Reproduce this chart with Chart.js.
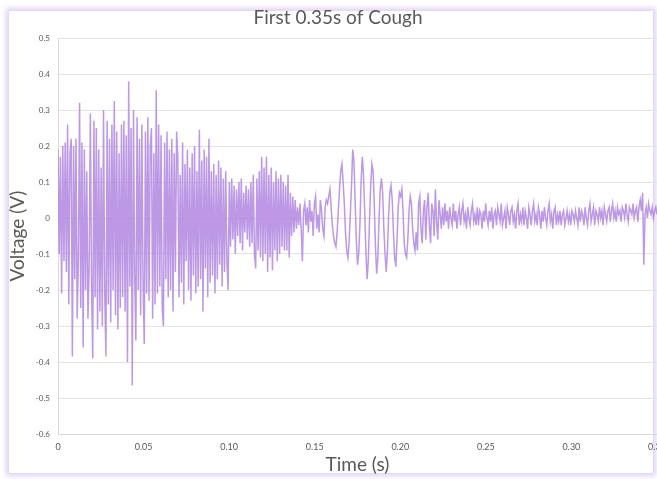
<!DOCTYPE html>
<html>
<head>
<meta charset="utf-8">
<script src="https://cdn.jsdelivr.net/npm/chart.js@4.4.1/dist/chart.umd.min.js"></script>
<style>
  html, body { margin: 0; padding: 0; background: #fff; overflow: hidden; }
  #frame {
    position: absolute; left: 9px; top: 11px; width: 644px; height: 462px;
    box-shadow: 0 0 5px 3px rgba(214, 196, 240, 0.75);
    background: #fff;
  }
  #wrap { position: absolute; left: 0; top: 0; width: 680px; height: 479px; }
</style>
</head>
<body>
<div id="frame"></div>
<div id="wrap"><canvas id="coughChart" width="680" height="479"></canvas></div>
<script>
// sample interval of the recording (s)
const sampleStep = 0.0007;

// 0 - 0.07 s : onset burst
const burst = [
  0.19, -0.10, 0.17, -0.21, 0.20, -0.12, 0.21, -0.15, 0.26, -0.24,
  0.18, 0.22, -0.385, 0.20, -0.17, 0.22, -0.28, -0.12, 0.32, -0.25,
  0.21, -0.36, 0.19, -0.20, 0.13, -0.28, -0.14, 0.29, -0.18, -0.39,
  0.27, -0.22, 0.25, -0.31, 0.19, -0.26, 0.14, -0.30, 0.30, -0.21,
  -0.385, 0.27, -0.24, 0.22, -0.29, 0.26, -0.20, 0.325, -0.27, 0.24,
  -0.31, 0.18, -0.25, 0.26, -0.22, 0.27, -0.26, 0.23, -0.40, 0.38,
  -0.19, 0.25, -0.465, 0.30, -0.16, -0.34, 0.28, -0.20, 0.22, -0.27,
  0.26, -0.18, -0.35, 0.24, -0.21, 0.28, -0.23, 0.20, 0.25, -0.28,
  0.18, -0.24, 0.355, -0.21, 0.26, -0.19, 0.23, -0.25, -0.30, 0.21,
  -0.17, 0.24, -0.22, 0.19, -0.20, 0.22, -0.26, 0.18, -0.15, 0.24
];

// 0.07 - 0.14 s : decay
const decay = [
  0.17, -0.22, 0.12, -0.18, 0.21, -0.24, 0.15, -0.12, 0.19, -0.20,
  0.14, -0.23, 0.18, -0.16, 0.20, -0.21, 0.13, -0.19, 0.245, -0.17,
  0.16, -0.26, 0.19, -0.14, 0.17, -0.22, 0.22, -0.18, 0.13, -0.16,
  0.15, -0.21, 0.12, -0.17, 0.16, -0.13, 0.14, -0.19, 0.11, -0.15,
  0.13, -0.12, -0.20, 0.10, -0.08, 0.11, -0.06, 0.09, -0.10, 0.08,
  -0.05, 0.10, -0.07, 0.11, -0.09, 0.07, -0.04, 0.09, -0.06, 0.08,
  -0.08, 0.10, -0.07, 0.12, -0.10, -0.14, 0.11, -0.09, 0.13, -0.11,
  0.17, -0.12, 0.14, -0.10, 0.17, -0.15, 0.12, -0.11, 0.14, -0.145,
  0.10, -0.09, 0.13, -0.12, 0.11, -0.10, 0.12, -0.08, 0.10, -0.09,
  0.09, -0.09, 0.12, -0.11, 0.07, -0.05, 0.06, -0.04, 0.05, -0.03
];

// 0.14 - 0.21 s : second (slow) wave
const wave = [
  0.03, -0.02, 0.04, -0.03, -0.12, 0.02, 0.04, -0.02, 0.03, -0.04,
  0.05, -0.01, 0.02, -0.05, 0.04, 0.06, -0.03, 0.01, -0.04, 0.05,
  0.02, -0.03, -0.05, 0.03, 0.05, 0.04, 0.06, 0.08, 0.03, -0.02,
  -0.05, -0.07, -0.08, -0.04, 0.02, 0.08, 0.13, 0.15, 0.10, 0.04,
  -0.04, -0.09, -0.11, -0.07, 0.01, 0.09, 0.19, 0.16, 0.05, -0.06,
  -0.13, -0.10, -0.02, 0.10, 0.17, 0.12, 0.02, -0.09, -0.17, -0.12,
  -0.01, 0.09, 0.15, 0.13, 0.04, -0.08, -0.155, -0.11, 0.00, 0.08,
  0.11, 0.07, -0.03, -0.10, -0.15, -0.09, 0.01, 0.07, 0.09, 0.05,
  -0.04, -0.11, -0.135, -0.06, 0.03, 0.07, 0.06, 0.08, 0.02, -0.07,
  -0.10, -0.11, -0.06, 0.02, 0.06, 0.04, -0.03, -0.07, -0.09, -0.04
];

// 0.21 - 0.28 s : tail
const tail = [
  -0.09, 0.04, 0.06, -0.03, -0.07, 0.02, 0.05, -0.06, 0.03, 0.07,
  -0.02, -0.07, 0.04, 0.02, -0.05, 0.08, -0.01, -0.06, 0.05, 0.01,
  -0.03, 0.03, -0.02, 0.04, -0.01, 0.02, -0.03, 0.03, 0.00, -0.02,
  0.04, -0.01, 0.02, -0.03, 0.01, 0.03, -0.02, 0.02, 0.04, -0.01,
  0.01, -0.03, 0.03, 0.00, -0.02, 0.02, 0.04, -0.01, 0.01, -0.02,
  0.03, -0.02, 0.02, 0.01, -0.03, 0.02, -0.01, 0.04, 0.00, -0.02,
  0.02, -0.01, 0.03, -0.03, 0.01, 0.02, -0.02, 0.03, 0.01, -0.01,
  0.04, -0.02, 0.00, 0.02, -0.03, 0.03, 0.01, -0.02, 0.02, 0.03,
  -0.01, 0.01, -0.03, 0.02, 0.04, -0.02, 0.01, -0.01, 0.03, -0.02,
  0.02, 0.00, -0.03, 0.03, 0.01, -0.02, 0.02, 0.04, -0.01, 0.01
];

// 0.28 - 0.35 s : end (with the click near 0.34 s)
const end = [
  -0.02, 0.03, 0.01, -0.03, 0.02, -0.01, 0.03, 0.00, -0.02, 0.02,
  0.04, -0.01, 0.01, -0.03, 0.02, 0.03, -0.02, 0.01, -0.01, 0.02,
  -0.02, 0.01, 0.02, -0.02, 0.00, 0.02, -0.01, 0.01, -0.02, 0.02,
  0.01, -0.01, 0.02, 0.00, -0.02, 0.03, -0.01, 0.02, 0.01, -0.02,
  0.03, 0.00, -0.02, 0.02, 0.04, -0.01, 0.01, 0.03, -0.02, 0.02,
  0.01, -0.01, 0.03, 0.00, 0.02, -0.02, 0.03, 0.01, -0.01, 0.02,
  0.03, -0.01, 0.02, 0.04, 0.00, 0.02, -0.01, 0.03, 0.01, 0.02,
  -0.01, 0.03, 0.02, 0.00, 0.04, 0.01, -0.01, 0.03, 0.02, 0.01,
  0.04, 0.00, 0.02, 0.03, -0.01, 0.03, 0.05, 0.02, 0.07, -0.13,
  0.01, 0.03, 0.00, 0.04, 0.02, 0.01, 0.03, 0.00, 0.02, 0.03, 0.01
];

const voltage = [...burst, ...decay, ...wave, ...tail, ...end];
const points = voltage.map((v, i) => ({ x: i * sampleStep, y: v }));

const textColor = '#595959';
const fontFamily = 'Lato, "Open Sans", sans-serif';

new Chart(document.getElementById('coughChart'), {
  type: 'line',
  data: {
    datasets: [{
      label: 'Voltage',
      data: points,
      borderColor: 'rgba(176, 134, 224, 0.85)',
      borderWidth: 1.5,
      pointRadius: 0,
      tension: 0,
    }]
  },
  options: {
    responsive: false,
    animation: false,
    layout: { padding: { left: 19, right: 23, top: 0, bottom: 0 } },
    plugins: {
      legend: { display: false },
      tooltip: { enabled: false },
      title: {
        display: true,
        text: 'First 0.35s of Cough',
        color: textColor,
        font: { family: fontFamily, size: 19, weight: 'normal' },
        padding: { top: 6.5, bottom: 8.7 }
      }
    },
    scales: {
      x: {
        type: 'linear',
        min: 0,
        max: 0.35,
        ticks: { stepSize: 0.05, color: textColor, font: { family: fontFamily, size: 9 }, padding: 8, maxRotation: 0 },
        grid: { display: false, drawTicks: false },
        border: { color: '#d9d9d9' },
        title: {
          display: true,
          text: 'Time (s)',
          color: textColor,
          font: { family: fontFamily, size: 19 },
          padding: { top: 0, bottom: 2.6 }
        },
        afterFit: (scale) => { scale.height = 45; }
      },
      y: {
        min: -0.6,
        max: 0.5,
        ticks: { stepSize: 0.1, color: textColor, font: { family: fontFamily, size: 8 }, padding: 8 },
        grid: { color: '#e4e4e4', drawTicks: false },
        border: { color: '#d9d9d9' },
        title: {
          display: true,
          text: 'Voltage (V)',
          color: textColor,
          font: { family: fontFamily, size: 19 },
          padding: { top: -12.4, bottom: 0 }
        },
        afterFit: (scale) => { scale.width = 39; }
      }
    }
  }
});
</script>
</body>
</html>
